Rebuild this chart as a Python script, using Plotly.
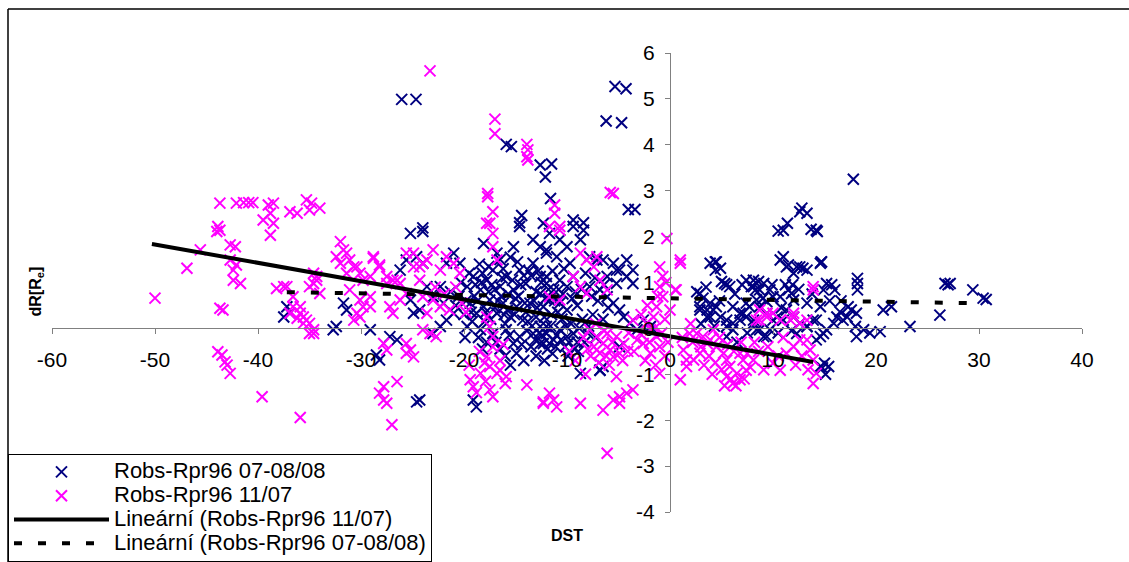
import plotly.graph_objects as go

# ---------------- data ----------------
navy_pts = [
    (-26.05,4.99),(-24.66,4.99),(-5.34,5.27),(-4.27,5.22),(-6.2,4.52),(-4.7,4.48),(-15.9,4.01),(-15.4,3.96),
    (-12.6,3.56),(-11.5,3.58),(-12.1,3.3),(-11.6,2.83),(-4.05,2.59),(-3.4,2.59),(-14.4,2.46),(-14.6,2.3),
    (-24,2.19),(-9.4,2.36),(-8.4,2.3),
    (17.8,3.25),(12.8,2.62),(13.3,2.51),(12.6,2.54),(10.5,2.12),(11.4,2.29),(13.7,2.16),(14.3,2.11),
    (11,1.56),(11.5,1.38),(12.3,1.34),(12.9,1.31),(14.7,1.45),(14.6,1.42),(4.4,1.45),(4.4,1.27),(5.3,0.98),
    (5.8,0.91),(8.1,1.05),(8.6,1.02),(9.1,0.98),(7.9,0.91),(8.3,0.84),(9.7,0.84),(10,0.69),(11.2,0.95),
    (11.5,0.84),(11.8,0.76),(15.2,0.98),(15.7,0.95),(16,0.84),(14.9,0.84),(18.2,1.09),(18.2,0.98),(18.2,0.84),
    (26.7,0.98),(27.2,0.98),(27,0.95),(29.4,0.84),(30.4,0.66),(30.7,0.63),(26.2,0.29),(23.3,0.04),(20.7,0.4),
    (21.5,0.47),(17.3,0.47),(17.6,0.4),(18.1,0.33),(17.2,0.25),(16.8,0.18),(18,0.04),(18.8,-0.03),(19.4,-0.1),
    (20.4,-0.07),(18.1,-0.18),(16.2,0.25),(16.5,0.36),(15.9,0.11),(15.2,-0.03),(14.6,-0.18),(14.2,-0.25),
    (15,-0.76),(15.4,-0.83),(14.8,-0.86),(15.1,-1.0),
    (2.9,0.47),(3.6,0.4),(3.9,0.25),(4.5,0.47),(4.9,0.25),(5.5,0.18),(6.1,0.11),(6.8,0.33),(7.4,0.25),
    (8.1,0.11),(8.7,-0.03),(9.4,-0.18),(10.4,0.25),(11,0.18),(11.3,0.4),(12,0.25),(12.6,0.11),(13.3,0.04),
    (13.9,0.18),(8.7,0.47),(9.4,0.58),(7.4,0.55),(6.1,0.47),
    (2.6,0.8),(3.2,0.66),(3.9,0.55),(4.2,0.4),(3.6,0.25),(2.9,0.4),(4.5,1.45),(4.9,1.31),(5.0,1.02),(5.5,0.95),
    (5.5,0.04),(6.1,-0.03),(5.5,-0.18),(7.4,1.05),(8.1,0.91),(8.7,0.84),(8.4,0.62),(7.7,0.47),(7.1,0.33),
    (6.8,0.18),(9.4,0.33),(10,0.18),(9.7,-0.03),(9.1,-0.18),(8.4,-0.03),(8.1,0.18),(10.7,1.49),(11.3,1.34),
    (12,1.2),(12.6,1.34),(13.3,1.27),(11,2.14),(14.2,2.14),(14.7,1.45),(10.7,0.69),(12,0.62),(13.3,0.55),
    (14.6,0.47),(14.2,0.18),(13.3,0.04),(12.3,-0.11),(14.9,-0.11),(14.6,-0.83),
    (3.5,0.9),(4.8,0.6),(6.3,0.75),(7,0.95),(9.9,0.95),(10.8,0.45),(12.5,0.85),(13.8,0.75),(15.5,0.6),
    (16.6,0.6),(6.5,-0.3),(7.5,-0.1),(10.5,-0.1),(11.8,-0.05),(3,0.1),(4.3,0.05),(9,0.65),(11.9,0.95),
    (-12.3,2.29),(-11.7,2.07),(-10.7,1.93),(-10,1.78),(-12,1.71),(-11,1.56),(-9.4,2.22),(-8.4,2.14),(-8.7,1.93),
    (-9.7,1.42),(-7.8,1.56),(-7.1,1.49),(-12.6,1.13),(-12,0.98),(-11.3,0.84),(-10.7,1.05),(-10,0.91),(-9.4,1.13),
    (-11.7,0.62),(-10.7,0.55),(-7.8,0.91),(-6.8,0.84),(-6.1,0.69),(-5.5,0.55),(-4.9,0.4),(-4.5,0.25),(-5.2,1.27),
    (-4.2,1.13),(-3.6,0.98),(-12.6,0.04),(-12,-0.11),(-11.3,-0.25),(-10.7,-0.03),(-10,-0.18),(-9.4,-0.11),
    (-11.7,-0.33),(-12.3,-0.33),(-8.7,-0.98),(-6.8,-0.91),(-6.5,-0.83),(-4.9,-0.4),
    (-25.2,2.07),(-24,2.11),(-18.1,1.85),(-16.8,1.64),(-15.2,1.78),(-14.6,2.22),(-13.3,1.93),(-12.6,1.78),(-12,1.64),
    (-19.7,0.91),(-19.1,1.13),(-18.4,0.84),(-17.8,1.05),(-17.2,1.27),(-16.5,0.91),(-15.9,1.13),(-15.2,0.84),
    (-14.6,1.27),(-14,0.98),(-13.3,1.42),(-12.6,0.76),(-12,1.13),(-19.4,0.55),(-18.8,0.33),(-18.1,0.47),
    (-17.5,0.62),(-16.8,0.33),(-16.2,0.55),(-15.5,0.25),(-14.9,0.47),(-14.3,0.18),(-13.6,0.55),(-13,0.25),
    (-12.3,0.47),(-12,0.04),(-19.7,0.04),(-18.4,-0.03),(-17.2,-0.11),(-15.9,-0.03),(-14.6,-0.18),(-13.3,-0.11),
    (-15.2,-0.33),(-12.6,-0.33),(-14.9,-0.54),(-19.1,-1.56),(-18.8,-1.71),
    (-19,0.7),(-18,0.15),(-17,0.85),(-16,0.1),(-15,0.65),(-14,0.35),(-13,0.8),(-12.5,1.0),(-11.5,0.3),
    (-10.5,0.2),(-11,-0.15),(-10,0.4),(-9,0.5),(-8.5,0.2),(-9,-0.3),(-8,-0.1),(-7.5,0.3),(-7,0.6),(-6.5,0.2),
    (-6,0.45),(-16.5,1.5),(-15.5,1.55),(-18.5,1.4),(-20,0.3),(-20.5,0.7),(-17.8,-0.3),(-16.5,-0.45),(-13.5,-0.4),
    (-11.2,0.6),(-10.3,1.3),(-9.2,0.8),(-8.2,1.2),(-7.3,1.1),(-6.4,0.95),
    (-19.5,1.2),(-18.9,0.95),(-18.2,1.2),(-17.6,0.8),(-17,0.45),(-16.4,0.7),(-15.8,0.4),(-15.3,1.05),(-14.7,0.7),
    (-14.2,1.15),(-13.8,0.15),(-13.2,0.6),(-12.8,1.25),(-12.2,0.25),(-11.8,0.85),(-11.4,1.25),(-10.9,0.35),
    (-10.4,0.75),(-19.2,0.15),(-18.6,-0.2),(-17.4,0.2),(-16.9,-0.3),(-16.1,0.3),(-15.6,-0.15),(-14.4,-0.35),
    (-13.9,-0.05),(-13.1,-0.25),(-12.4,-0.15),(-11.9,-0.45),(-10.2,-0.4),(-9.6,0.1),(-9.9,-0.6),(-8.9,-0.5),
    (-8.3,-0.3),(-7.9,0.05),(-7.2,-0.2),(-20.3,1.0),(-20.8,0.5),(-21.3,0.8),(-22,0.55),(-19.9,-0.2),(-18.2,-0.45),
    (-16,-0.6),(-15.5,-0.8),(-14.2,-0.7),(-13,-0.6),(-12.2,-0.7),
    (-19.8,0.6),(-19.3,0.35),(-18.7,0.6),(-18.3,1.0),(-17.9,0.35),(-17.3,0.95),(-16.7,0.6),(-16.3,1.1),
    (-15.7,0.75),(-15.1,0.3),(-14.5,0.95),(-14.1,0.55),(-13.5,1.15),(-13.4,0.05),(-12.9,0.45),(-12.7,-0.1),
    (-12.1,0.65),(-11.6,0.05),(-11.1,-0.4),(-10.6,-0.25),(-10.1,0.05),(-9.8,-0.3),(-9.3,-0.45),(-8.8,0.0),
    (-11.4,-0.55),(-10.8,0.85),(-9.5,0.65),(-8.6,0.85),(-7.6,0.7),(-17.6,1.35),(-16.2,1.3),(-14.8,1.45),(-13.7,1.25),
    (-24.3,-1.56),(-24.6,-1.6),(-28.2,-0.69),(-28.5,-0.58),(-27.2,-0.18),(-26.5,-0.25),(-24.9,0.33),(-25.2,0.62),
    (-24.3,0.4),(-23,-0.11),(-22.3,0.04),(-21.7,0.18),(-21,0.33),(-32.7,-0.03),(-32.4,0.04),(-29.1,-0.03),
    (-31.7,0.55),(-31.4,0.4),(-37.2,0.47),(-36.9,0.33),(-37.5,0.25),(-26.2,1.27),(-25.6,1.49),(-24.6,1.56),
    (-24,1.42),(-23.6,0.91),(-23,0.69),(-22.3,0.91),(-21,1.64),(-20.4,1.42),(-21.7,1.42),
    (-3.9,0.11),(-3.2,-0.03),(-2.6,0.18),(-1.9,0.04),(-6.5,1.49),(-5.5,1.42),(-4.9,1.27),(-6.1,1.13),(-5.2,0.98),
    (-4.2,1.49),(-3.6,1.27),(2.9,0.76),(3.9,1.42),(-6.8,-0.91),
]

magenta_pts = [
    (-23.3,5.61),(-17,4.56),(-17,4.24),(-13.9,4.01),(-13.8,3.89),(-13.9,3.74),(-13.8,3.67),(-17.7,2.94),
    (-17.7,2.87),(-5.8,2.96),(-5.5,2.94),(-17.2,2.54),(-17.5,2.29),(-11.2,2.69),(-11.2,2.51),(-10.7,2.22),
    (-43.7,2.73),(-41.4,2.74),(-40.9,2.74),(-40.5,2.74),(-42.1,2.73),(-39,2.69),(-38.5,2.73),(-38.8,2.51),
    (-39.5,2.36),(-38.5,2.29),(-38.8,2.03),(-36.9,2.54),(-36.2,2.51),(-35.3,2.8),(-34.8,2.73),(-34,2.62),
    (-35,2.58),(-43.9,2.22),(-43.7,2.14),(-44,2.11),(-45.6,1.71),(-46.9,1.31),(-50,0.66),(-42.7,1.82),
    (-42.2,1.78),(-42.7,1.49),(-42.1,1.38),(-42.4,1.27),(-42.4,1.05),(-41.7,0.98),(-43.7,0.44),(-43.4,0.4),
    (-38.2,0.87),(-37.5,0.91),
    (-32,1.89),(-31.7,1.71),(-32.4,1.56),(-31.1,1.49),(-30.4,1.34),(-31.4,1.2),(-29.8,1.05),(-28.8,1.53),
    (-28.2,1.38),(-29.1,1.13),(-27.5,0.98),(-26.5,1.05),(-25.6,1.64),(-24.9,1.34),(-24,1.42),(-24.3,1.05),
    (-34.6,1.2),(-34.3,1.05),(-35,0.91),(-34,0.76),(-36.6,0.47),(-35.9,0.33),(-35.3,0.18),(-31.1,0.84),
    (-30.1,0.62),(-29.1,0.47),(-30.4,0.33),
    (-43.9,-0.51),(-43.5,-0.58),(-43.2,-0.73),(-43,-0.8),(-42.7,-0.98),(-39.6,-1.49),(-35.9,-1.94),
    (-36.9,0.33),(-36.2,0.22),(-35.6,0.11),(-35,-0.11),(-34.6,-0.03),
    (-31.4,1.64),(-32,1.42),(-30.7,1.34),(-30.1,1.2),(-28.8,1.56),(-28.2,1.34),(-27.5,1.13),(-26.9,1.05),
    (-26.2,0.98),(-29.1,0.69),(-29.8,0.47),(-30.1,0.25),(-30.7,0.18),(-27.2,0.47),(-26.9,0.33),(-26.2,0.62),
    (-25.6,0.76),(-24.9,1.64),(-24.3,1.34),(-23.6,1.49),(-23,1.71),(-22.3,1.27),(-21.7,1.56),(-21,1.42),
    (-20.4,1.2),(-24,0.69),(-23,0.62),(-22.3,0.47),(-21.4,0.4),(-23.6,0.33),(-24,-0.03),(-23.3,-0.11),
    (-22.7,-0.18),(-25.6,-0.33),(-25.2,-0.47),(-24.9,-0.62),(-25.6,-0.54),(-27.8,-0.33),(-27.5,-0.47),
    (-26.5,-1.16),(-27.8,-1.27),(-28.2,-1.41),(-27.8,-1.56),(-27.5,-1.63),(-27,-2.1),(-37.2,0.91),(-36.6,0.69),
    (-35.9,0.47),(-35.6,0.25),(-35,0.11),(-34.6,-0.11),(-34.3,1.13),(-34.6,0.98),
    (-22.8,0.9),(-21.9,0.75),(-20.8,0.9),(-20.2,0.55),(-19.8,0.35),
    (-17.8,0.25),(-17.5,0.04),(-17.2,-0.18),(-17.2,-0.4),(-17.8,-0.62),(-17.5,-0.83),(-16.8,-0.98),(-15.9,-1.05),
    (-16.5,-0.91),(-18.4,-0.98),(-19.4,-1.12),(-19.1,-1.27),(-17.5,-1.34),(-17.2,-1.49),(-13.9,-1.23),(-12.3,-1.6),
    (-18.5,-0.5),(-18,-0.75),(-16.5,-0.7),(-16,-1.2),(-18.8,-1.4),(-17.9,-1.15),(-19.5,-0.8),(-16.2,-0.35),
    (-17.8,2.29),(-17.2,2.07),(-16.8,1.49),(-17.2,1.78),
    (-11.7,2.22),(-10.7,2.14),(-8.7,1.64),(-8.1,1.49),(-7.4,1.34),(-7.1,1.56),(-9.4,1.13),(-8.7,0.91),(-8.1,0.76),
    (-6.8,1.05),(-6.1,0.84),(-11.7,0.69),(-10.7,0.62),
    (-7.8,-0.03),(-7.1,-0.18),(-6.5,-0.33),(-5.8,-0.47),(-6.8,-0.54),(-7.4,-0.4),(-5.2,-0.18),(-4.5,-0.33),
    (-6.1,-0.11),(-5.5,-0.62),(-4.9,-0.54),(-5.2,-1.05),(-8.7,-1.63),(-5.5,-1.56),(-4.9,-1.49),(-4.2,-1.41),
    (-3.6,-1.34),(-4.9,-1.63),(-11.7,-1.41),(-11.3,-1.56),(-11,-1.71),(-12.3,-1.63),(-9.2,-0.7),(-8.2,-1.0),
    (-9.8,-0.5),
    (-8.4,-0.2),(-7.7,-0.6),(-6.9,-0.75),(-6.2,-0.6),(-5.6,-0.3),(-4.6,-0.7),(-4.1,-0.5),(-7.2,0.1),(-6.4,-0.05),
    (-5.9,-0.8),(-8,-0.45),
    (-1,1.34),(-0.7,1.13),(-1,0.91),(-0.7,0.69),(-1.3,0.47),(-1.6,0.25),(-2.3,0.11),(-1.9,-0.03),(-1.3,-0.18),
    (-2.6,-0.33),(-1,-0.4),(-1.9,-0.54),(-2.9,-0.11),(-3.2,-0.25),(-3.6,0.18),(-0.3,1.96),(1,1.42),(1,1.49),
    (0.5,0.84),(-1,-0.98),(1,-1.12),(1.6,-0.69),
    (-0.5,0.2),(-0.8,-0.1),(-1.5,0.0),(-2.0,-0.3),(-0.5,-0.6),(-1.4,-0.8),(-2.4,-0.7),(-0.2,-0.3),(-1.2,0.7),
    (-0.4,1.0),(-2.8,0.3),(-3.5,-0.5),(-4,-0.1),(-2.2,0.5),
    (2.6,-0.11),(3.2,-0.18),(3.9,-0.25),(4.5,-0.4),(5.2,-0.54),(5.5,-0.69),(5.8,-0.83),(6.5,-0.98),(6.8,-1.12),
    (6.1,-1.2),(5.5,-1.05),(7.4,-0.91),(7.1,-0.69),(6.8,-0.54),(8.1,-0.69),(4.2,-0.03),(3.6,-0.33),(2.9,-0.54),
    (2.3,-0.69),(1.6,-0.83),
    (2.2,-0.3),(3,-0.4),(3.8,-0.6),(4.4,-0.75),(5,-0.9),(5.9,-1.1),(6.4,-1.25),(7.2,-1.1),(7.8,-0.85),(4.8,-0.2),
    (5.6,-0.35),(6.2,-0.5),(7.5,-0.55),(8.6,-0.5),(9.1,-0.9),(4.1,-1.0),(3.3,-0.8),(5.3,-1.25),(6.9,-0.3),
    (8.2,-0.3),(1.2,-0.2),(2,0.1),(9.5,-0.4),(10.5,-0.6),(11,-0.2),(12.8,-0.6),(13.4,-0.9),(12.2,-0.8),
    (10,-0.76),(10.7,-0.91),(10,0.33),(9.4,0.25),(8.4,0.18),(8.7,0.4),(10.7,0.18),(11.7,0.18),(12.6,0.11),
    (13.3,-0.25),(13.6,-0.47),(13.9,-0.69),(14.2,-0.98),(13.9,-1.2),(12.6,-0.25),(12,-0.4),(11.3,-0.54),
    (13.9,0.84),(12,0.25),(13.9,0.91),(8.7,0.18),(9.4,0.33),(12,0.33),(13.3,0.18),
    (-6.1,-2.72),(0.6,0.84),(0,0.4),(1.9,-0.11),(1.3,-0.47),(-6.5,-1.78),
]

navy_x = [p[0] for p in navy_pts]
navy_y = [p[1] for p in navy_pts]
mag_x = [p[0] for p in magenta_pts]
mag_y = [p[1] for p in magenta_pts]

# linear trend lines (end points)
trend_1107_x = [-50.3, 13.9]
trend_1107_y = [1.84, -0.73]
trend_0708_x = [-37.2, 29.2]
trend_0708_y = [0.79, 0.55]

x_ticks = [-60, -50, -40, -30, -20, -10, 0, 10, 20, 30, 40]
y_ticks = [-4, -3, -2, -1, 0, 1, 2, 3, 4, 5, 6]

names = ["Robs-Rpr96 07-08/08", "Robs-Rpr96 11/07",
         "Lineární (Robs-Rpr96 11/07)", "Lineární (Robs-Rpr96 07-08/08)"]

# ---------------- figure ----------------
FONT = "Arial, Liberation Sans, sans-serif"
W, H = 1129, 562
ML, MR, MT, MB = 52, 47, 53, 50
PW, PH = W - ML - MR, H - MT - MB

def px_x(p):
    return (p - ML) / PW

def px_y(p):
    return (H - MB - p) / PH

def leg(name):
    return '<span style="font-size:22px">' + name + '</span>'

fig = go.Figure()
fig.add_trace(go.Scatter(
    x=navy_x, y=navy_y, mode="markers", name=leg(names[0]),
    marker=dict(symbol="x-thin", size=11, color="#000080",
                line=dict(color="#000080", width=2))))
fig.add_trace(go.Scatter(
    x=mag_x, y=mag_y, mode="markers", name=leg(names[1]),
    marker=dict(symbol="x-thin", size=11, color="#FF00FF",
                line=dict(color="#FF00FF", width=2))))
fig.add_trace(go.Scatter(
    x=trend_1107_x, y=trend_1107_y, mode="lines", name=leg(names[2]),
    line=dict(color="black", width=4)))
fig.add_trace(go.Scatter(
    x=trend_0708_x, y=trend_0708_y, mode="lines", name=leg(names[3]),
    line=dict(color="black", width=4, dash="8px,16px")))

fig.update_layout(
    width=W, height=H,
    margin=dict(l=ML, r=MR, t=MT, b=MB, pad=0, autoexpand=False),
    paper_bgcolor="white", plot_bgcolor="white",
    font=dict(family=FONT, size=20, color="black"),
    showlegend=True,
    legend=dict(
        x=px_x(8), y=px_y(454), xanchor="left", yanchor="top",
        bgcolor="white", bordercolor="black", borderwidth=1,
        font=dict(family=FONT, size=16, color="black"),
        itemwidth=95, tracegroupgap=0,
    ),
    xaxis=dict(
        range=[-60, 40], tickvals=x_ticks, ticktext=[str(v) for v in x_ticks],
        showgrid=False, zeroline=False, showline=True, linecolor="#808080", linewidth=1,
        ticks="outside", ticklen=5, tickcolor="#808080", tickwidth=1,
        anchor="free", position=0.4, ticklabelstandoff=7,
        tickfont=dict(family=FONT, size=21, color="black"),
    ),
    yaxis=dict(
        range=[-4, 6], tickvals=y_ticks, ticktext=[str(v) for v in y_ticks],
        showgrid=False, zeroline=False, showline=True, linecolor="#808080", linewidth=1,
        ticks="outside", ticklen=5, tickcolor="#808080", tickwidth=1,
        anchor="free", position=0.6, side="left", ticklabelstandoff=6,
        tickfont=dict(family=FONT, size=21, color="black"),
    ),
    shapes=[
        dict(type="line", xref="paper", yref="paper",
             x0=px_x(8), x1=px_x(1135), y0=px_y(9), y1=px_y(9),
             line=dict(color="black", width=1.5)),
        dict(type="line", xref="paper", yref="paper",
             x0=px_x(8), x1=px_x(8), y0=px_y(9), y1=px_y(570),
             line=dict(color="black", width=1.5)),
    ],
    annotations=[
        dict(text="<b>dR[R<sub>e</sub>]</b>", xref="paper", yref="paper",
             x=px_x(24), y=px_y(292), textangle=-90, showarrow=False,
             font=dict(family=FONT, size=16, color="black")),
        dict(text="<b>DST</b>", xref="paper", yref="paper",
             x=px_x(567), y=px_y(546), showarrow=False,
             font=dict(family=FONT, size=16, color="black")),
    ],
)

fig.write_html("out.html")
